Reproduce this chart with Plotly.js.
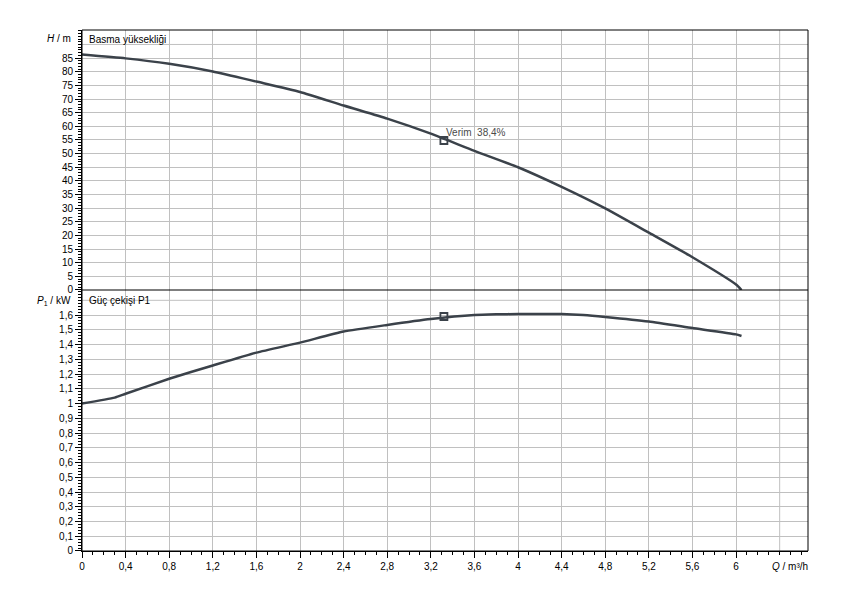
<!DOCTYPE html>
<html>
<head>
<meta charset="utf-8">
<script src="https://cdn.plot.ly/plotly-3.0.1.min.js"></script>
<style>html,body{margin:0;padding:0;background:#fff;}</style>
</head>
<body>
<div id="chart" style="width:850px;height:600px;"></div>
<script>
// ---- Data ----
const qHead = [0, 0.4, 0.8, 1.2, 1.6, 2.0, 2.4, 2.8, 3.2, 3.6, 4.0, 4.4, 4.8, 5.2, 5.6, 6.0, 6.05];
const head  = [86.3, 84.9, 82.9, 80.1, 76.4, 72.6, 67.6, 62.8, 57.3, 51.0, 45.0, 37.8, 29.9, 21.0, 12.0, 2.0, 0];

const qPower = [0, 0.3, 0.4, 0.8, 1.2, 1.6, 2.0, 2.4, 2.8, 3.2, 3.6, 3.8, 4.0, 4.4, 4.6, 4.8, 5.2, 5.6, 6.0, 6.05];
const power  = [1.0, 1.04, 1.066, 1.168, 1.258, 1.345, 1.413, 1.488, 1.533, 1.573, 1.60, 1.605, 1.607, 1.607, 1.60, 1.587, 1.556, 1.512, 1.469, 1.458];

const qOp = [3.32];
const headOp = [54.8];
const powerOp = [1.59];
const effLabel = "Verim  38,4%";

const xTickVals = [0, 0.4, 0.8, 1.2, 1.6, 2, 2.4, 2.8, 3.2, 3.6, 4, 4.4, 4.8, 5.2, 5.6, 6];
const xTickText = ["0", "0,4", "0,8", "1,2", "1,6", "2", "2,4", "2,8", "3,2", "3,6", "4", "4,4", "4,8", "5,2", "5,6", "6"];
const xExtraGrid = [6.4];

const hTickVals = [0, 5, 10, 15, 20, 25, 30, 35, 40, 45, 50, 55, 60, 65, 70, 75, 80, 85];
const hTickText = ["0", "5", "10", "15", "20", "25", "30", "35", "40", "45", "50", "55", "60", "65", "70", "75", "80", "85"];
const hExtraGrid = [90];

const pTickVals = [0, 0.1, 0.2, 0.3, 0.4, 0.5, 0.6, 0.7, 0.8, 0.9, 1, 1.1, 1.2, 1.3, 1.4, 1.5, 1.6];
const pTickText = ["0", "0,1", "0,2", "0,3", "0,4", "0,5", "0,6", "0,7", "0,8", "0,9", "1", "1,1", "1,2", "1,3", "1,4", "1,5", "1,6"];
const pExtraGrid = [1.7];

const titleH = "<i>H</i> / m";
const titleP = "<i>P</i><sub>1</sub> / kW";
const titleQ = "<i>Q</i> / m³/h";
const labelH = "Basma yüksekliği";
const labelP = "Güç çekişi P1";

// ---- Styles ----
const lineColor = "#3b424a";
const gridColor = "#c0c0c0";
const font = {family: "Liberation Sans, Arial, sans-serif", size: 10, color: "#000"};
const xRange = [0, 6.66];
const pRange = [0, 1.77];
const hRange = [0, 95.3];
const pDomain = [0, 0.501];
const hDomain = [0.501, 1];

const traces = [
  {x: qHead, y: head, xaxis: "x", yaxis: "y2", mode: "lines",
   line: {color: lineColor, width: 2.5, shape: "spline", smoothing: 0.5}, hoverinfo: "skip"},
  {x: qPower, y: power, xaxis: "x", yaxis: "y", mode: "lines",
   line: {color: lineColor, width: 2.5, shape: "spline", smoothing: 0.5}, hoverinfo: "skip"},
  {x: qOp, y: headOp, xaxis: "x", yaxis: "y2", mode: "markers",
   marker: {symbol: "square-open", size: 7, color: lineColor, line: {width: 1.8, color: lineColor}}, hoverinfo: "skip"},
  {x: qOp, y: powerOp, xaxis: "x", yaxis: "y", mode: "markers",
   marker: {symbol: "square-open", size: 7, color: lineColor, line: {width: 1.8, color: lineColor}}, hoverinfo: "skip"},
  // carriers for the minor-tick overlay axes (no visible data)
  {x: [], y: [], xaxis: "x2", yaxis: "y", mode: "lines", hoverinfo: "skip"},
  {x: [], y: [], xaxis: "x", yaxis: "y3", mode: "lines", hoverinfo: "skip"},
  {x: [], y: [], xaxis: "x", yaxis: "y4", mode: "lines", hoverinfo: "skip"}
];

const majorCommon = {
  showgrid: true, gridcolor: gridColor, gridwidth: 1,
  showline: true, linecolor: "#000", linewidth: 1, mirror: false,
  ticks: "outside", ticklen: 6, tickcolor: "#000", tickwidth: 1,
  zeroline: false, tickfont: font, tickmode: "array", fixedrange: true
};
const minorCommon = {
  showgrid: false, zeroline: false, showline: false, showticklabels: false,
  ticks: "outside", ticklen: 3, tickcolor: "#000", tickwidth: 1,
  tickmode: "linear", tick0: 0, fixedrange: true
};

const shapes = [];
xExtraGrid.forEach(v => shapes.push({type: "line", xref: "x", yref: "paper", x0: v, x1: v, y0: 0, y1: 1, layer: "below", line: {color: gridColor, width: 1}}));
hExtraGrid.forEach(v => shapes.push({type: "line", xref: "paper", yref: "y2", x0: 0, x1: 1, y0: v, y1: v, layer: "below", line: {color: gridColor, width: 1}}));
pExtraGrid.forEach(v => shapes.push({type: "line", xref: "paper", yref: "y", x0: 0, x1: 1, y0: v, y1: v, layer: "below", line: {color: gridColor, width: 1}}));
shapes.push({type: "rect", xref: "paper", yref: "paper", x0: 0, x1: 1, y0: 0, y1: 1, line: {color: "#000", width: 1}});
shapes.push({type: "line", xref: "paper", yref: "paper", x0: 0, x1: 1, y0: 0.501, y1: 0.501, line: {color: "#000", width: 1.2}});

const layout = {
  width: 850, height: 600,
  margin: {l: 82, r: 42, t: 30, b: 49},
  paper_bgcolor: "#fff", plot_bgcolor: "#fff",
  showlegend: false,
  font: font,
  shapes: shapes,
  xaxis: Object.assign({}, majorCommon, {range: xRange, anchor: "y", tickvals: xTickVals, ticktext: xTickText}),
  xaxis2: Object.assign({}, minorCommon, {range: xRange, anchor: "y", overlaying: "x", side: "bottom", dtick: 0.1}),
  yaxis: Object.assign({}, majorCommon, {domain: pDomain, range: pRange, anchor: "x", tickvals: pTickVals, ticktext: pTickText}),
  yaxis2: Object.assign({}, majorCommon, {domain: hDomain, range: hRange, anchor: "x", tickvals: hTickVals, ticktext: hTickText}),
  yaxis3: Object.assign({}, minorCommon, {domain: pDomain, range: pRange, anchor: "x", overlaying: "y", side: "left", dtick: 0.02}),
  yaxis4: Object.assign({}, minorCommon, {domain: hDomain, range: hRange, anchor: "x", overlaying: "y2", side: "left", dtick: 1}),
  annotations: [
    {text: titleH, xref: "paper", yref: "paper", x: -0.012, y: 0.983, xanchor: "right", yanchor: "middle", showarrow: false, font: font},
    {text: titleP, xref: "paper", yref: "paper", x: -0.012, y: 0.48, xanchor: "right", yanchor: "middle", showarrow: false, font: font},
    {text: titleQ, xref: "paper", yref: "paper", x: 1.003, y: -0.029, xanchor: "right", yanchor: "middle", showarrow: false, font: font},
    {text: labelH, xref: "paper", yref: "paper", x: 0.007, y: 0.981, xanchor: "left", yanchor: "middle", showarrow: false, font: font},
    {text: labelP, xref: "paper", yref: "paper", x: 0.007, y: 0.48, xanchor: "left", yanchor: "middle", showarrow: false, font: font},
    {text: effLabel, xref: "x", yref: "y2", x: qOp[0], y: headOp[0], xanchor: "left", yanchor: "middle",
     xshift: 0, yshift: 8, showarrow: false, font: {family: font.family, size: 10, color: "#4a4a4a"}}
  ]
};

Plotly.newPlot("chart", traces, layout, {displayModeBar: false, staticPlot: true});
</script>
</body>
</html>
